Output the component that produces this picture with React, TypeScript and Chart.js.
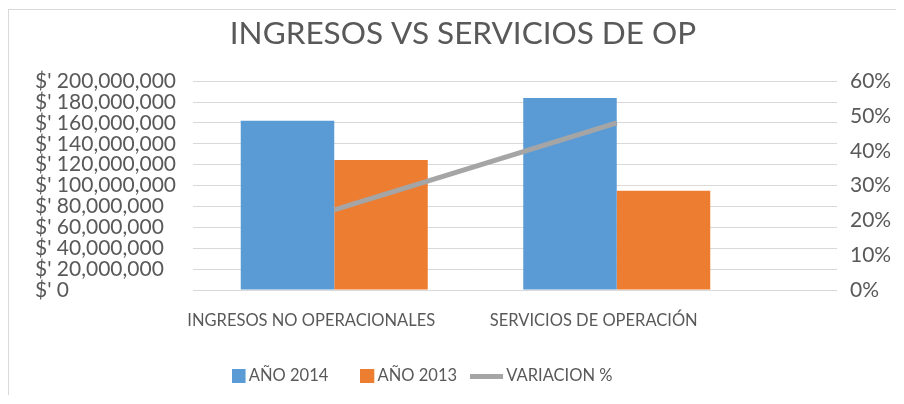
import React, { useEffect, useRef } from 'react';
import { Chart, registerables } from 'chart.js';

Chart.register(...registerables);

// ---- data ----
const categories = ['INGRESOS NO OPERACIONALES', 'SERVICIOS DE OPERACIÓN'];
const seriesNames = ['AÑO 2014', 'AÑO 2013', 'VARIACION %'];
const anio2014 = [162000000, 184000000];
const anio2013 = [124500000, 95000000];
const variacion = [0.23, 0.48];
const leftAxisRange = [0, 200000000, 20000000];
const rightAxisRange = [0, 0.6, 0.1];

// ---- style ----
const BLUE = '#5B9BD5';
const ORANGE = '#ED7D31';
const GREY = '#A5A5A5';
const TEXT = '#595959';
const GRID = '#D9D9D9';
const FONT = 'Lato';
const LEGEND_SHIFT = -39.5;
const LEGEND_PAD = 40;
const TITLE_SHIFT = -2.5;

function makeMarker(markW: number, markH: number, canvasW: number, color: string) {
  const c = document.createElement('canvas');
  c.width = canvasW;
  c.height = markH;
  const ctx = c.getContext('2d');
  if (ctx) {
    ctx.fillStyle = color;
    ctx.fillRect(0, 0, markW, markH);
  }
  return c;
}

const shiftPlugin = {
  id: 'shiftBlocks',
  afterLayout(chart: any) {
    const l = chart.legend;
    if (l) {
      l.left += LEGEND_SHIFT;
      l.right += LEGEND_SHIFT;
    }
    const t = chart.titleBlock;
    if (t) {
      t.left += TITLE_SHIFT;
      t.right += TITLE_SHIFT;
    }
  },
};

export default function App() {
  const ref = useRef<HTMLCanvasElement | null>(null);

  useEffect(() => {
    if (!ref.current) return;
    const markers = [
      makeMarker(14, 14, 17, BLUE),
      makeMarker(14, 14, 17, ORANGE),
      makeMarker(33, 5, 55, GREY),
    ];
    const chart = new Chart(ref.current, {
      type: 'bar',
      data: {
        labels: categories,
        datasets: [
          {
            type: 'bar',
            label: seriesNames[0],
            data: anio2014,
            backgroundColor: BLUE,
            yAxisID: 'y',
            order: 1,
            barPercentage: 1,
            categoryPercentage: 0.662,
          },
          {
            type: 'bar',
            label: seriesNames[1],
            data: anio2013,
            backgroundColor: ORANGE,
            yAxisID: 'y',
            order: 1,
            barPercentage: 1,
            categoryPercentage: 0.662,
          },
          {
            type: 'line',
            label: seriesNames[2],
            data: variacion,
            borderColor: GREY,
            backgroundColor: GREY,
            borderWidth: 5,
            pointRadius: 0,
            pointHoverRadius: 0,
            borderCapStyle: 'butt',
            yAxisID: 'y1',
            order: 0,
          } as any,
        ],
      },
      options: {
        animation: false,
        responsive: true,
        maintainAspectRatio: false,
        layout: { padding: { top: 0, left: 26, right: 0, bottom: 1.75 } },
        plugins: {
          tooltip: { enabled: false },
          title: {
            display: true,
            text: 'INGRESOS VS SERVICIOS DE OP',
            color: TEXT,
            font: { family: FONT, size: 31.5, weight: 'normal', lineHeight: 1.2 },
            padding: { top: 5, bottom: 28.4 },
          },
          legend: {
            position: 'bottom',
            labels: {
              usePointStyle: true,
              boxWidth: 1,
              boxHeight: 14,
              padding: LEGEND_PAD,
              color: TEXT,
              font: { family: FONT, size: 16.5 },
              generateLabels: (chart: any) => {
                const items = (Chart.defaults.plugins.legend.labels as any).generateLabels(chart);
                items.sort((a: any, b: any) => a.datasetIndex - b.datasetIndex);
                return items.map((it: any) => ({
                  ...it,
                  pointStyle: markers[it.datasetIndex],
                  fontColor: TEXT,
                }));
              },
            },
          },
        },
        scales: {
          x: {
            offset: true,
            grid: { display: false, drawTicks: false },
            border: { display: true, color: GRID },
            ticks: {
              color: TEXT,
              font: { family: FONT, size: 16.5 },
              padding: 21.1,
              labelOffset: -23,
              maxRotation: 0,
              autoSkip: false,
            },
            afterFit: (s: any) => {
              s.height = 37.75;
            },
          },
          y: {
            position: 'left',
            min: leftAxisRange[0],
            max: leftAxisRange[1],
            grid: { color: GRID, drawTicks: false },
            border: { display: false },
            ticks: {
              stepSize: leftAxisRange[2],
              autoSkip: false,
              crossAlign: 'far',
              color: TEXT,
              padding: 15,
              font: { family: FONT, size: 21, lineHeight: 1 },
              callback: (v: any) => "$' " + Number(v).toLocaleString('en-US'),
            },
            afterFit: (s: any) => {
              s.width = 158;
            },
          },
          yGrid: {
            position: 'right',
            weight: 0,
            min: leftAxisRange[0],
            max: leftAxisRange[1],
            grid: { color: GRID, drawOnChartArea: false, drawTicks: true, tickLength: 79 },
            border: { display: false },
            ticks: { display: false, stepSize: leftAxisRange[2], autoSkip: false },
            afterFit: (s: any) => {
              s.width = 79;
            },
          },
          y1: {
            position: 'right',
            weight: 1,
            min: rightAxisRange[0],
            max: rightAxisRange[1],
            grid: { display: false, drawTicks: false },
            border: { display: false },
            ticks: {
              stepSize: rightAxisRange[2],
              autoSkip: false,
              color: TEXT,
              padding: 13,
              font: { family: FONT, size: 21, lineHeight: 1 },
              callback: (v: any) => Math.round(Number(v) * 100) + '%',
            },
            afterFit: (s: any) => {
              s.width = 59;
            },
          },
        } as any,
      },
      plugins: [shiftPlugin],
    });
    return () => chart.destroy();
  }, []);

  return (
    <div
      style={{
        position: 'relative',
        top: 1,
        height: 387,
        boxSizing: 'border-box',
        borderTop: `1px solid ${GRID}`,
        borderLeft: `1px solid ${GRID}`,
      }}
    >
      <div style={{ position: 'relative', height: 386 }}>
        <canvas ref={ref} />
      </div>
    </div>
  );
}
